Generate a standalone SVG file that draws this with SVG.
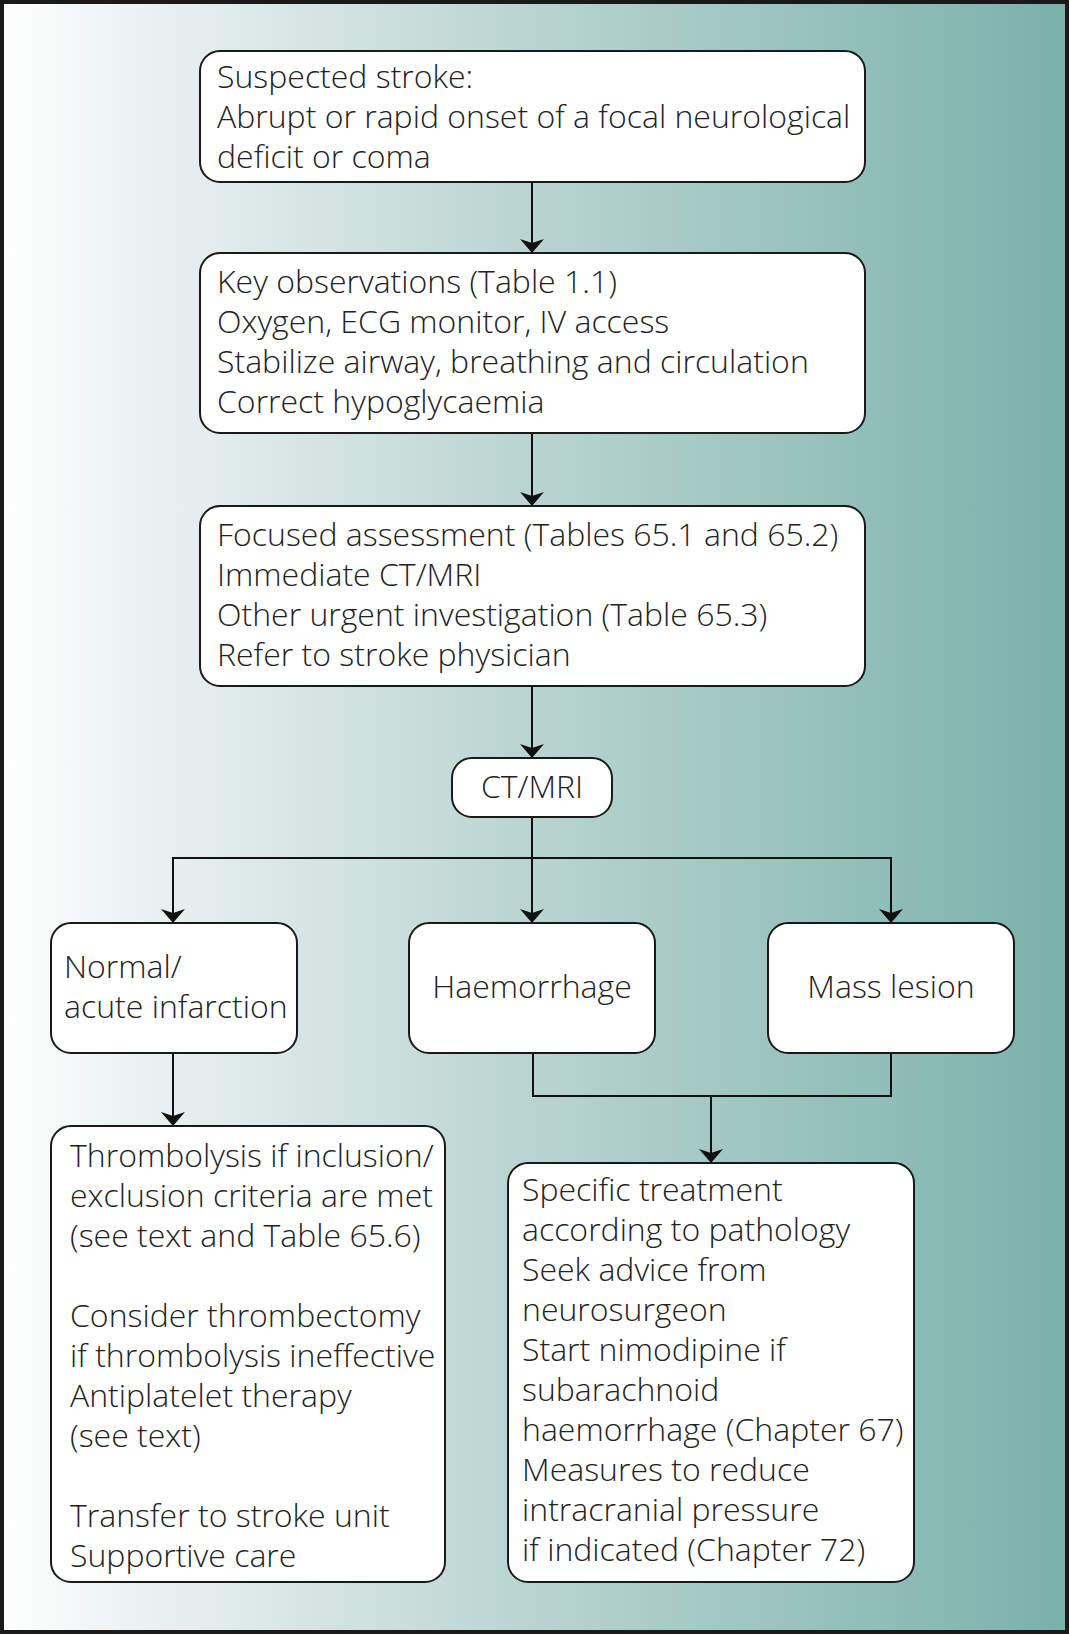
<svg xmlns="http://www.w3.org/2000/svg" width="1069" height="1634" viewBox="0 0 1069 1634">
<defs>
<linearGradient id="bg" x1="0" y1="0" x2="1" y2="0">
<stop offset="0" stop-color="#ffffff"/>
<stop offset="0.08" stop-color="#f2f6f6"/>
<stop offset="0.5" stop-color="#b8d4d0"/>
<stop offset="1" stop-color="#7ab1aa"/>
</linearGradient>
<marker id="ah" viewBox="0 0 14 24" refX="14" refY="12" markerWidth="14" markerHeight="24" markerUnits="userSpaceOnUse" orient="auto">
<path d="M0,0 L14,12 L0,24 L4,12 Z" fill="#111"/>
</marker>
</defs>
<style>
.box{fill:#fff;stroke:#1a1a1a;stroke-width:2}
.t{font-family:"Open Sans","Noto Sans","DejaVu Sans",sans-serif;font-size:32px;font-weight:300;fill:#222}
.c{text-anchor:middle}
.ln{fill:none;stroke:#111;stroke-width:2}
</style>
<rect x="2" y="2" width="1065" height="1630" fill="url(#bg)" stroke="#1a1a1a" stroke-width="4"/>
<g id="connectors">
<line class="ln" x1="532" y1="182" x2="532" y2="253" marker-end="url(#ah)"/>
<line class="ln" x1="532" y1="434" x2="532" y2="506" marker-end="url(#ah)"/>
<line class="ln" x1="532" y1="687" x2="532" y2="758" marker-end="url(#ah)"/>
<line class="ln" x1="532" y1="818" x2="532" y2="923" marker-end="url(#ah)"/>
<polyline class="ln" points="173,900 173,858 891,858 891,900"/>
<line class="ln" x1="173" y1="890" x2="173" y2="923" marker-end="url(#ah)"/>
<line class="ln" x1="891" y1="890" x2="891" y2="923" marker-end="url(#ah)"/>
<line class="ln" x1="173" y1="1054" x2="173" y2="1126" marker-end="url(#ah)"/>
<polyline class="ln" points="533,1054 533,1096 891,1096 891,1054"/>
<line class="ln" x1="711" y1="1096" x2="711" y2="1163" marker-end="url(#ah)"/>
</g>
<g id="n1">
<rect class="box" x="200" y="51" width="665" height="131" rx="20"/>
<text class="t" x="217" y="88">Suspected stroke:</text>
<text class="t" x="217" y="128">Abrupt or rapid onset of a focal neurological</text>
<text class="t" x="217" y="168">deficit or coma</text>
</g>
<g id="n2">
<rect class="box" x="200" y="253" width="665" height="180" rx="20"/>
<text class="t" x="217" y="293">Key observations (Table 1.1)</text>
<text class="t" x="217" y="333">Oxygen, ECG monitor, IV access</text>
<text class="t" x="217" y="373">Stabilize airway, breathing and circulation</text>
<text class="t" x="217" y="413">Correct hypoglycaemia</text>
</g>
<g id="n3">
<rect class="box" x="200" y="506" width="665" height="180" rx="20"/>
<text class="t" x="217" y="546">Focused assessment (Tables 65.1 and 65.2)</text>
<text class="t" x="217" y="586">Immediate CT/MRI</text>
<text class="t" x="217" y="626">Other urgent investigation (Table 65.3)</text>
<text class="t" x="217" y="666">Refer to stroke physician</text>
</g>
<g id="n4">
<rect class="box" x="452" y="758" width="160" height="59" rx="20"/>
<text class="t c" x="532" y="798">CT/MRI</text>
</g>
<g id="n5">
<rect class="box" x="51" y="923" width="246" height="130" rx="20"/>
<text class="t" x="64" y="978">Normal/</text>
<text class="t" x="64" y="1018">acute infarction</text>
</g>
<g id="n6">
<rect class="box" x="409" y="923" width="246" height="130" rx="20"/>
<text class="t c" x="532" y="998">Haemorrhage</text>
</g>
<g id="n7">
<rect class="box" x="768" y="923" width="246" height="130" rx="20"/>
<text class="t c" x="891" y="998">Mass lesion</text>
</g>
<g id="n8">
<rect class="box" x="51" y="1126" width="394" height="456" rx="20"/>
<text class="t" x="70" y="1167">Thrombolysis if inclusion/</text>
<text class="t" x="70" y="1207">exclusion criteria are met</text>
<text class="t" x="70" y="1247">(see text and Table 65.6)</text>
<text class="t" x="70" y="1327">Consider thrombectomy</text>
<text class="t" x="70" y="1367">if thrombolysis ineffective</text>
<text class="t" x="70" y="1407">Antiplatelet therapy</text>
<text class="t" x="70" y="1447">(see text)</text>
<text class="t" x="70" y="1527">Transfer to stroke unit</text>
<text class="t" x="70" y="1567">Supportive care</text>
</g>
<g id="n9">
<rect class="box" x="508" y="1163" width="406" height="419" rx="20"/>
<text class="t" x="522" y="1201">Specific treatment</text>
<text class="t" x="522" y="1241">according to pathology</text>
<text class="t" x="522" y="1281">Seek advice from</text>
<text class="t" x="522" y="1321">neurosurgeon</text>
<text class="t" x="522" y="1361">Start nimodipine if</text>
<text class="t" x="522" y="1401">subarachnoid</text>
<text class="t" x="522" y="1441">haemorrhage (Chapter 67)</text>
<text class="t" x="522" y="1481">Measures to reduce</text>
<text class="t" x="522" y="1521">intracranial pressure</text>
<text class="t" x="522" y="1561">if indicated (Chapter 72)</text>
</g>
</svg>
